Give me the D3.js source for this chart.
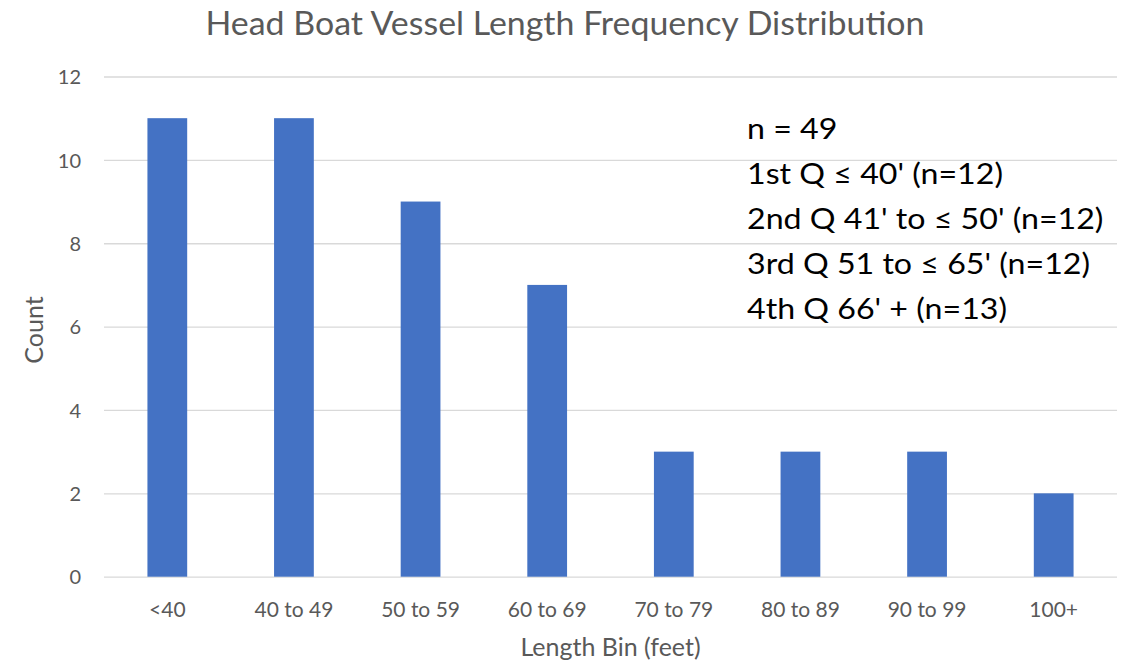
<!DOCTYPE html>
<html>
<head>
<meta charset="utf-8">
<script src="https://d3js.org/d3.v7.min.js"></script>
<style>
  body { margin: 0; background: #fff; }
  text { font-family: Lato, "Open Sans", sans-serif; }
</style>
</head>
<body>
<div id="chart"></div>
<script>
    // data
    let bins = ['<40', '40 to 49', '50 to 59', '60 to 69', '70 to 79', '80 to 89', '90 to 99', '100+'];
    let counts = [11, 11, 9, 7, 3, 3, 3, 2];
    let yTicks = [0, 2, 4, 6, 8, 10, 12];
    let notes = ["n = 49", "1st Q \u2264 40' (n=12)", "2nd Q 41' to \u2264 50' (n=12)", "3rd Q 51 to \u2264 65' (n=12)", "4th Q 66' + (n=13)"];

    let totalWidth = 1140, totalHeight = 660;
    let margin = {top: 76.5, right: 23, bottom: 83.3, left: 104};
    let width = totalWidth - margin.left - margin.right,
        height = totalHeight - margin.top - margin.bottom;

    const svg = d3.select("#chart").append("svg")
        .attr("width", totalWidth)
        .attr("height", totalHeight);

    const g = svg.append("g")
        .attr("transform", "translate(" + margin.left + "," + margin.top + ")");

    let x = d3.scaleBand()
        .domain(bins)
        .range([0, width])
        .paddingInner(0.686)
        .paddingOuter(0.343);

    let y = d3.scaleLinear()
        .domain([0, 12])
        .range([height, 0]);

    // gridlines
    g.append("g")
        .call(d3.axisLeft(y).tickValues(yTicks).tickSize(-width).tickFormat(""))
        .call(a => a.select(".domain").remove())
        .selectAll("line")
        .attr("stroke", "#d9d9d9")
        .attr("stroke-width", 1.3);

    // y tick labels
    g.append("g")
        .call(d3.axisLeft(y).tickValues(yTicks).tickSize(0).tickPadding(23))
        .call(a => a.select(".domain").remove())
        .selectAll("text")
        .attr("fill", "#595959")
        .attr("dy", "0.36em")
        .style("font-size", "20px");

    // bars
    g.selectAll("rect.bar")
        .data(counts)
        .enter().append("rect")
        .attr("class", "bar")
        .attr("x", (d, i) => x(bins[i]))
        .attr("y", d => y(d))
        .attr("width", x.bandwidth())
        .attr("height", d => height - y(d))
        .attr("fill", "#4472c4");

    // x tick labels
    g.append("g")
        .attr("transform", "translate(0," + height + ")")
        .call(d3.axisBottom(x).tickSize(0).tickPadding(25))
        .call(a => a.select(".domain").remove())
        .selectAll("text")
        .attr("fill", "#595959")
        .style("font-size", "21px");

    // title
    svg.append("text")
        .attr("transform", "translate(565,35) scale(1.06,1)")
        .attr("text-anchor", "middle")
        .attr("fill", "#595959")
        .style("font-size", "32px")
        .text("Head Boat Vessel Length Frequency Distribution");

    // axis titles
    svg.append("text")
        .attr("transform", "translate(43,330) rotate(-90)")
        .attr("text-anchor", "middle")
        .attr("fill", "#595959")
        .style("font-size", "25px")
        .text("Count");

    svg.append("text")
        .attr("x", margin.left + width / 2)
        .attr("y", 656)
        .attr("text-anchor", "middle")
        .attr("fill", "#595959")
        .style("font-size", "25px")
        .text("Length Bin (feet)");

    // annotation block
    svg.append("g")
        .selectAll("text")
        .data(notes)
        .enter().append("text")
        .attr("transform", (d, i) => "translate(747," + (139 + i * 44.9) + ") scale(1.09,1)")
        .attr("fill", "#000")
        .style("font-size", "29.5px")
        .text(d => d);
</script>
</body>
</html>
